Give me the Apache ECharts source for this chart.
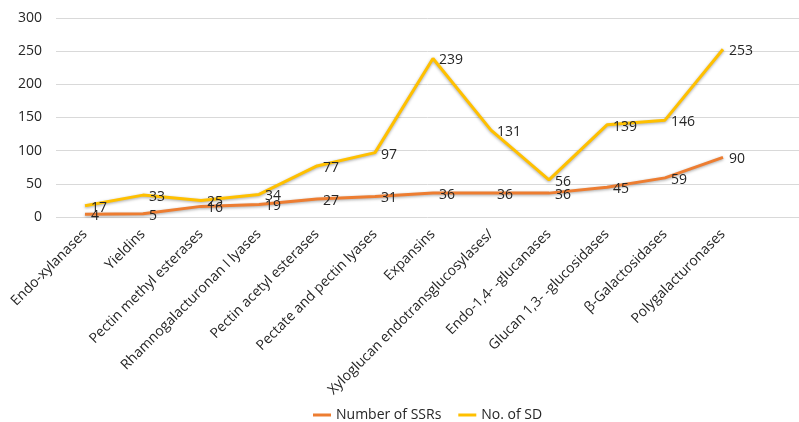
<!DOCTYPE html>
<html>
<head>
<meta charset="utf-8">
<script src="https://cdn.jsdelivr.net/npm/echarts@6/dist/echarts.min.js"></script>
<style>html,body{margin:0;padding:0;background:#fff}#c{width:799px;height:422px}</style>
</head>
<body>
<div id="c"></div>
<script>
const categories = ["Endo-xylanases","Yieldins","Pectin methyl esterases","Rhamnogalacturonan I lyases","Pectin acetyl esterases","Pectate and pectin lyases","Expansins","Xyloglucan endotransglucosylases/","Endo-1,4- -glucanases","Glucan 1,3- -glucosidases","β-Galactosidases","Polygalacturonases"];
const ssrValues = [4,5,16,19,27,31,36,36,36,45,59,90];
const sdValues = [17,33,25,34,77,97,239,131,56,139,146,253];
const yTicks = {min:0, max:300, interval:50};

const font = "'Open Sans', sans-serif";
const chart = echarts.init(document.getElementById('c'));
const lineSeries = (name, data, color) => ({
  name, type:'line', data, xAxisIndex:1, yAxisIndex:1,
  symbol:'circle', symbolSize:0.1, showSymbol:true, smooth:false,
  lineStyle:{color, width:3, shadowColor:'rgba(0,0,0,0.35)', shadowBlur:3, shadowOffsetY:1},
  itemStyle:{color},
  label:{show:true, position:'right', distance:6, color:'#262626', fontSize:14, fontFamily:font, offset:[0,2]}
});
chart.setOption({
  animation:false,
  grid:[
    {left:56, right:0, top:18, bottom:205},
    {left:56, right:47, top:18, bottom:205}
  ],
  legend:{
    top:403, left:308, itemWidth:18, itemHeight:3, icon:'rect', itemGap:17,
    textStyle:{color:'#262626', fontSize:14, fontFamily:font},
    data:['Number of SSRs','No. of SD']
  },
  xAxis:[
    {type:'value', gridIndex:0, show:false, min:0, max:1},
    {type:'category', gridIndex:1, data:categories, boundaryGap:true,
     axisLine:{show:false}, axisTick:{show:false},
     axisLabel:{rotate:45, interval:0, color:'#262626', fontSize:14, fontFamily:font, margin:15}}
  ],
  yAxis:[
    {type:'value', gridIndex:0, min:yTicks.min, max:yTicks.max, interval:yTicks.interval,
     axisLine:{show:false}, axisTick:{show:false},
     splitLine:{lineStyle:{color:'#d9d9d9', width:1}},
     axisLabel:{color:'#262626', fontSize:14, fontFamily:font, margin:14}},
    {type:'value', gridIndex:1, min:yTicks.min, max:yTicks.max, interval:yTicks.interval, show:false, splitLine:{show:false}}
  ],
  series:[
    lineSeries('Number of SSRs', ssrValues, '#ED7D31'),
    lineSeries('No. of SD', sdValues, '#FFC000')
  ]
});
</script>
</body>
</html>
